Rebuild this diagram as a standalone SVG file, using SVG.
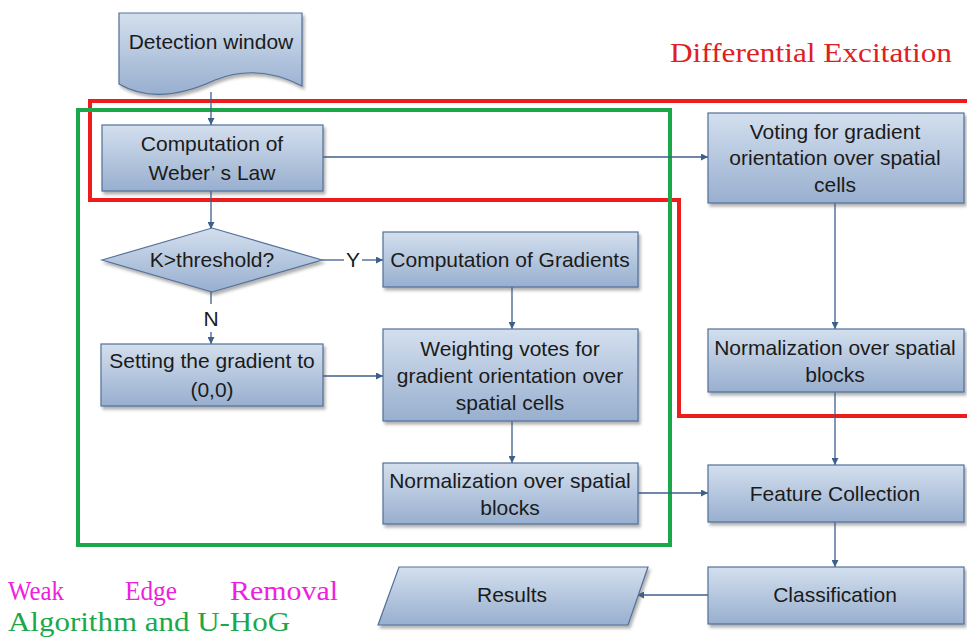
<svg xmlns="http://www.w3.org/2000/svg" width="967" height="637" viewBox="0 0 967 637">
<defs>
<linearGradient id="g" x1="0" y1="0" x2="0" y2="1">
<stop offset="0" stop-color="#d3dfee"/>
<stop offset="1" stop-color="#98afcf"/>
</linearGradient>
<filter id="sh" x="-5%" y="-5%" width="115%" height="125%">
<feDropShadow dx="2" dy="3" stdDeviation="1.5" flood-color="#555" flood-opacity="0.45"/>
</filter>
<marker id="ar" viewBox="0 0 10 10" refX="10" refY="5" markerWidth="7" markerHeight="7" orient="auto" markerUnits="userSpaceOnUse">
<path d="M0,0 L10,5 L0,10 Z" fill="#3d5f8c"/>
</marker>
<style>
.box{fill:url(#g);stroke:#52709a;stroke-width:1.2;filter:url(#sh)}
.t{font-family:"Liberation Sans",Arial,sans-serif;font-size:21px;fill:#1b1b1b;text-anchor:middle}
.c{fill:none;stroke:#3d5f8c;stroke-width:1.3}
.ca{fill:none;stroke:#3d5f8c;stroke-width:1.3;marker-end:url(#ar)}
.lab{font-family:"Liberation Serif","Times New Roman",serif;font-size:27px}
</style>
</defs>
<rect width="967" height="637" fill="#ffffff"/>

<!-- region outlines -->
<polyline points="967,101 90,101 90,200 679,200 679,416 967,416" fill="none" stroke="#ee1c1c" stroke-width="4"/>
<rect x="78" y="110" width="592" height="435" fill="none" stroke="#1aa84a" stroke-width="4"/>

<g id="connectors">
<line class="ca" x1="211" y1="92" x2="211" y2="125"/>
<line class="ca" x1="323" y1="157" x2="708" y2="157"/>
<line class="ca" x1="211" y1="191" x2="211" y2="229"/>
<line class="c" x1="322" y1="260" x2="344" y2="260"/>
<line class="ca" x1="362" y1="260" x2="383" y2="260"/>
<text class="t" x="353" y="267">Y</text>
<line class="c" x1="211" y1="292" x2="211" y2="304"/>
<text class="t" x="211" y="326">N</text>
<line class="ca" x1="211" y1="332" x2="211" y2="344"/>
<line class="ca" x1="323" y1="376" x2="383" y2="376"/>
<line class="ca" x1="512" y1="287" x2="512" y2="329"/>
<line class="ca" x1="512" y1="421" x2="512" y2="463"/>
<line class="ca" x1="638" y1="493" x2="708" y2="493"/>
<line class="ca" x1="835" y1="203" x2="835" y2="329"/>
<line class="ca" x1="835" y1="392" x2="835" y2="465"/>
<line class="ca" x1="835" y1="522" x2="835" y2="567"/>
<line class="ca" x1="708" y1="595" x2="637" y2="595"/>
</g>

<g id="detection">
<path class="box" d="M119,13 H302 V86 C275,72 245,68 215,80 C185,94 150,102 119,84 Z"/>
<text class="t" x="211" y="49">Detection window</text>
</g>
<g id="weber">
<rect class="box" x="102" y="125" width="221" height="66"/>
<text class="t" x="212" y="151">Computation of</text>
<text class="t" x="212" y="180">Weber’  s Law</text>
</g>
<g id="decision">
<polygon class="box" points="102,260 212,228 322,260 212,292"/>
<text class="t" x="212" y="267">K&gt;threshold?</text>
</g>
<g id="setting">
<rect class="box" x="101" y="344" width="222" height="62"/>
<text class="t" x="212" y="368">Setting the gradient to</text>
<text class="t" x="212" y="397">(0,0)</text>
</g>
<g id="gradients">
<rect class="box" x="383" y="232" width="255" height="55"/>
<text class="t" x="510" y="267">Computation of Gradients</text>
</g>
<g id="weighting">
<rect class="box" x="383" y="329" width="255" height="92"/>
<text class="t" x="510" y="356">Weighting votes for</text>
<text class="t" x="510" y="383">gradient orientation over</text>
<text class="t" x="510" y="410">spatial cells</text>
</g>
<g id="norm-left">
<rect class="box" x="383" y="463" width="255" height="61"/>
<text class="t" x="510" y="488">Normalization over spatial</text>
<text class="t" x="510" y="515">blocks</text>
</g>
<g id="voting">
<rect class="box" x="708" y="113" width="256" height="90"/>
<text class="t" x="835" y="139">Voting for gradient</text>
<text class="t" x="835" y="165">orientation over spatial</text>
<text class="t" x="835" y="192">cells</text>
</g>
<g id="norm-right">
<rect class="box" x="708" y="329" width="256" height="63"/>
<text class="t" x="835" y="355">Normalization over spatial</text>
<text class="t" x="835" y="382">blocks</text>
</g>
<g id="feature">
<rect class="box" x="708" y="465" width="256" height="57"/>
<text class="t" x="835" y="501">Feature Collection</text>
</g>
<g id="classification">
<rect class="box" x="708" y="567" width="256" height="57"/>
<text class="t" x="835" y="602">Classification</text>
</g>
<g id="results">
<polygon class="box" points="399,567 648,567 628,625 378,625"/>
<text class="t" x="512" y="602">Results</text>
</g>

<text class="lab" x="670" y="62" fill="#e0201f" textLength="282" lengthAdjust="spacingAndGlyphs">Differential Excitation</text>
<text class="lab" x="8" y="600" fill="#ee22dd" textLength="56" lengthAdjust="spacingAndGlyphs">Weak</text>
<text class="lab" x="125" y="600" fill="#ee22dd" textLength="52" lengthAdjust="spacingAndGlyphs">Edge</text>
<text class="lab" x="230" y="600" fill="#ee22dd" textLength="108" lengthAdjust="spacingAndGlyphs">Removal</text>
<text class="lab" x="8" y="631" fill="#1aa84a" textLength="282" lengthAdjust="spacingAndGlyphs">Algorithm and U-HoG</text>
</svg>
